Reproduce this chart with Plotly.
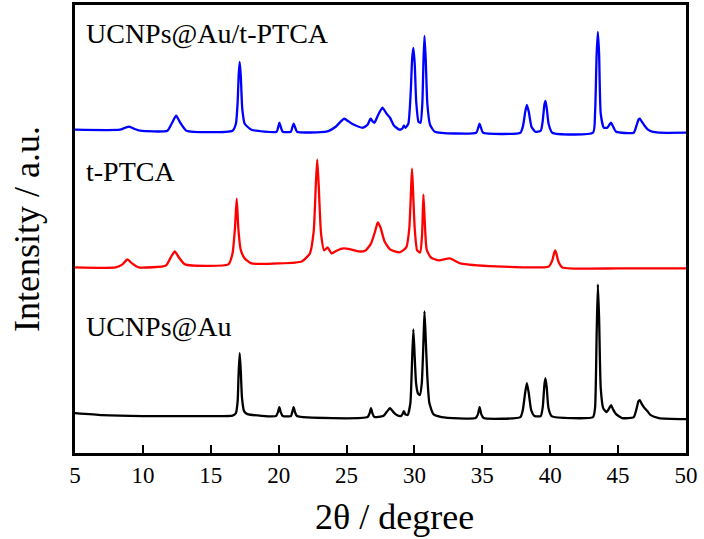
import plotly.graph_objects as go

# 2theta (degree) and stacked intensity (a.u.)
x_ucnp = [5.0, 7.0, 10.0, 15.0, 16.6, 16.85, 16.98, 17.05, 17.13, 17.21, 17.3, 17.45, 17.7,
          19.8, 19.95, 20.05, 20.15, 20.3, 20.9, 21.0, 21.1, 21.2, 21.35, 26.55, 26.7, 26.8,
          26.9, 27.05, 27.7, 27.95, 28.2, 28.45, 28.7, 29.0, 29.12, 29.22, 29.32, 29.5, 29.7,
          29.82, 29.92, 30.02, 30.12, 30.25, 30.4, 30.54, 30.66, 30.74, 30.83, 30.95, 31.1,
          31.4, 32.0, 34.5, 34.68, 34.8, 34.92, 35.1, 37.8, 37.98, 38.15, 38.28, 38.42, 38.6,
          38.85, 39.3, 39.45, 39.57, 39.65, 39.74, 39.87, 40.1, 43.15, 43.3, 43.42, 43.51,
          43.6, 43.72, 43.9, 44.15, 44.35, 44.48, 44.62, 44.85, 45.3, 46.15, 46.35, 46.5,
          46.6, 46.75, 46.95, 47.15, 47.4, 48.0, 50.0]
y_ucnp = [40, 38, 37, 37, 37.5, 40, 52, 80, 100, 82, 55, 42, 39,
          37, 41, 46, 41, 37, 37, 41, 46, 41, 37, 36, 40, 45,
          40, 36, 37, 41, 45, 41, 38, 37, 39, 42, 39, 38, 50,
          90, 124, 96, 70, 60, 58, 70, 110, 142, 115, 76, 50,
          39, 36, 35, 39, 46, 39, 35, 36, 43, 60, 70, 60, 43,
          37, 37, 46, 68, 75, 66, 45, 37, 36, 45, 120, 169,
          135, 65, 45, 41, 45, 48, 44, 39, 35, 36, 44, 52,
          53, 49, 45, 42, 38, 35, 34]

x_ptca = [5.0, 8.0, 8.5, 8.86, 9.2, 9.7, 11.7, 12.05, 12.35, 12.65, 13.1, 16.3,
          16.6, 16.78, 16.91, 17.03, 17.2, 17.5, 18.0, 20.0, 21.7, 22.3, 22.58, 22.74,
          22.84, 22.95, 23.12, 23.35, 23.6, 23.9, 24.3, 24.8, 25.3, 25.9, 26.4, 26.8,
          27.1, 27.3, 27.5, 27.8, 28.2, 28.9, 29.4, 29.62, 29.74, 29.82, 29.9, 30.02, 30.2,
          30.42, 30.56, 30.66, 30.76, 30.9, 31.2, 31.8, 32.6, 33.4, 36.0, 39.9, 40.15,
          40.3, 40.37, 40.45, 40.6, 40.9, 45.0, 50.0]
y_ptca = [186, 186, 189, 194, 190, 186, 188, 196, 202, 196, 189, 189,
          200, 225, 255, 225, 204, 195, 190, 190, 192, 200, 222, 270,
          294, 268, 220, 203, 206, 200, 203, 205, 204, 202, 203, 210,
          222, 231, 226, 212, 204, 201, 206, 225, 260, 285, 262, 225, 203,
          201, 218, 259, 232, 204, 196, 193, 195, 190, 187, 187, 193,
          201, 203, 200, 192, 186, 185, 185]

x_comp = [5.0, 8.3, 8.7, 9.01, 9.35, 9.8, 11.8, 12.15, 12.45, 12.75, 13.2, 16.6,
          16.85, 16.98, 17.06, 17.13, 17.21, 17.32, 17.5, 18.0, 19.85, 19.97, 20.05, 20.15,
          20.3, 20.9, 21.0, 21.11, 21.22, 21.35, 23.5, 24.2, 24.82, 25.4, 26.2, 26.55,
          26.72, 26.79, 26.88, 27.05, 27.3, 27.64, 27.95, 28.2, 28.5, 28.9, 29.1, 29.22,
          29.34, 29.55, 29.72, 29.83, 29.92, 30.02, 30.13, 30.3, 30.45, 30.58, 30.67,
          30.74, 30.83, 30.95, 31.15, 31.5, 34.55, 34.7, 34.79, 34.9, 35.05, 37.8, 38.0,
          38.16, 38.28, 38.42, 38.62, 38.9, 39.3, 39.45, 39.57, 39.65, 39.74, 39.88,
          40.15, 43.15, 43.3, 43.42, 43.51, 43.6, 43.72, 43.95, 44.2, 44.36, 44.48,
          44.6, 44.85, 46.15, 46.35, 46.5, 46.6, 46.75, 46.95, 47.2, 47.5, 48.0, 50.0]
y_comp = [324, 324, 326, 327, 325, 323, 323, 331, 338, 331, 323, 323,
          330, 352, 380, 392, 378, 345, 330, 324, 322, 327, 331, 327,
          322, 322, 326, 330, 326, 322, 322, 327, 335, 330, 326, 329,
          334, 335, 333, 331, 338, 346, 340, 336, 328, 324, 325, 328,
          326, 330, 360, 395, 406, 390, 352, 332, 331, 350, 395,
          418, 395, 350, 329, 322, 321, 326, 330, 326, 321, 321, 328,
          342, 349, 342, 327, 322, 323, 333, 349, 353, 346, 330,
          321, 321, 340, 400, 422, 400, 340, 326, 326, 329, 331,
          328, 322, 321, 328, 334, 335, 332, 328, 324, 322, 321, 321]

x_ticks = [5, 10, 15, 20, 25, 30, 35, 40, 45, 50]

labels = ["UCNPs@Au/t-PTCA", "t-PTCA", "UCNPs@Au"]
label_y = [420, 282, 127]

x_title = "2θ / degree"
y_title = "Intensity / a.u."

FONT = "Liberation Serif, Times New Roman, serif"

fig = go.Figure()
for xs, ys, col, nm in [(x_ucnp, y_ucnp, "#000000", "UCNPs@Au"),
                        (x_ptca, y_ptca, "#FF0000", "t-PTCA"),
                        (x_comp, y_comp, "#0000FF", "UCNPs@Au/t-PTCA")]:
    fig.add_trace(go.Scatter(x=xs, y=ys, mode="lines", name=nm,
                             line=dict(color=col, width=2.3, shape="spline", smoothing=0.5)))

for txt, yy in zip(labels, label_y):
    fig.add_annotation(x=5.65, y=yy, xref="x", yref="y", text=txt,
                       showarrow=False, xanchor="left", yanchor="middle",
                       font=dict(family=FONT, size=28, color="#000000"))

# x-axis title (slightly right of centre, as in the original)
fig.add_annotation(x=0.523, y=0, xref="paper", yref="paper", text=x_title,
                   showarrow=False, xanchor="center", yanchor="middle", yshift=-64,
                   font=dict(family=FONT, size=36, color="#000000"))

fig.update_layout(
    width=704, height=539,
    margin=dict(l=75, r=18, t=5, b=86),
    paper_bgcolor="white", plot_bgcolor="white",
    showlegend=False,
    font=dict(family=FONT, color="#000000"),
)
fig.update_xaxes(range=[5, 50], tickvals=x_ticks, ticktext=[str(t) for t in x_ticks],
                 ticks="inside", ticklen=8, tickwidth=2, tickcolor="black",
                 ticklabelstandoff=0, automargin=False,
                 showline=True, linecolor="black", linewidth=2.5, mirror=True,
                 showgrid=False, zeroline=False,
                 tickfont=dict(family=FONT, size=23))
fig.update_yaxes(range=[0, 449], showticklabels=False, ticks="", automargin=False,
                 showline=True, linecolor="black", linewidth=2.5, mirror=True,
                 showgrid=False, zeroline=False,
                 title=dict(text=y_title, font=dict(family=FONT, size=36), standoff=22))

fig.write_html("out.html", config={"displayModeBar": False},
               post_script="document.body.style.margin='0';document.body.style.padding='0';"
                           "document.body.style.overflow='hidden';")
